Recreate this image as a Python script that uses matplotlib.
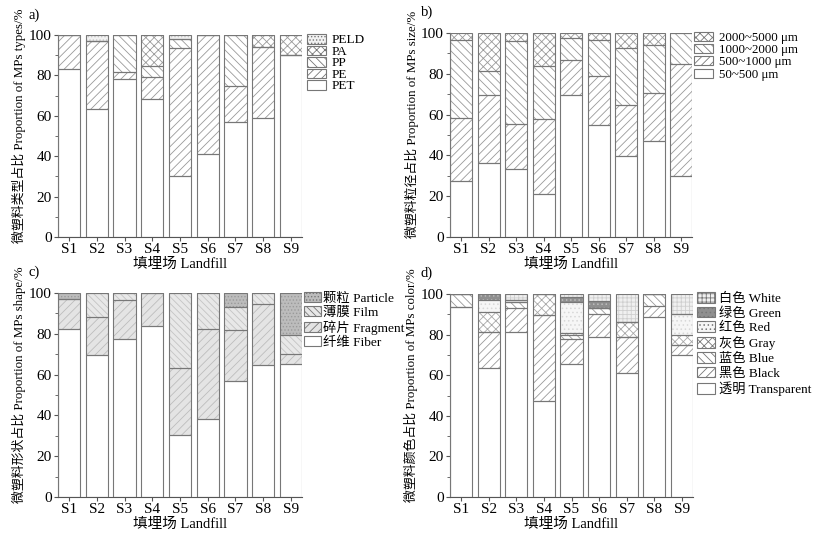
import matplotlib
matplotlib.use('Agg')
import matplotlib.pyplot as plt
from matplotlib.patches import Patch
import numpy as np

plt.rcParams['font.family'] = ['Liberation Serif', 'Noto Sans CJK SC']
plt.rcParams['hatch.linewidth'] = 0.6
plt.rcParams['axes.unicode_minus'] = False

sites = ['S1', 'S2', 'S3', 'S4', 'S5', 'S6', 'S7', 'S8', 'S9']

# a) polymer types
type_labels = ['PET', 'PE', 'PP', 'PA', 'PELD']
pet = [83, 63.5, 78, 68.5, 30, 41, 57, 59, 90]
pe = [17, 33.5, 3.5, 10.5, 63.5, 59, 18, 35, 0]
pp = [0, 0, 18.5, 5.5, 4.5, 0, 25, 0, 0]
pa = [0, 0, 0, 15.5, 0, 0, 0, 6, 10]
peld = [0, 3, 0, 0, 2, 0, 0, 0, 0]

# b) size classes
size_labels = ['50~500 μm', '500~1000 μm', '1000~2000 μm', '2000~5000 μm']
s50_500 = [27.5, 36.5, 33.5, 21, 69.5, 55, 39.5, 47, 30]
s500_1000 = [31, 33.3, 22, 37, 17.5, 24, 25, 23.5, 55]
s1000_2000 = [38, 11.7, 40.5, 26, 10.5, 17.5, 28, 23.5, 15]
s2000_5000 = [3.5, 18.5, 4, 16, 2.5, 3.5, 7.5, 6, 0]

# c) shapes
shape_labels = ['纤维 Fiber', '碎片 Fragment', '薄膜 Film', '颗粒 Particle']
fiber = [82.5, 69.5, 77.5, 84, 30.5, 38, 57, 64.5, 65]
fragment = [14.5, 18.5, 19, 16, 32.5, 44.5, 25, 30, 5]
film = [0, 12, 3.5, 0, 37, 17.5, 11, 5.5, 9.5]
particle = [3, 0, 0, 0, 0, 0, 7, 0, 20.5]

# d) colours
color_labels = ['透明 Transparent', '黑色 Black', '蓝色 Blue', '灰色 Gray',
                '红色 Red', '绿色 Green', '白色 White']
transparent = [93.5, 63.5, 81.5, 47.5, 65.5, 79, 61, 88.5, 70]
black = [0, 18, 11.5, 42, 12.5, 11, 18, 5.5, 5]
blue = [6.5, 0, 3, 0, 2, 3, 0, 6, 0]
gray = [0, 9.5, 0, 10.5, 1, 0, 7, 0, 5]
red = [0, 6, 1, 0, 15, 0, 0, 0, 10]
green = [0, 3, 0, 0, 2.5, 3.5, 0, 0, 0]
white = [0, 0, 3, 0, 1.5, 3.5, 14, 0, 10]

W, H = 819, 538
fig = plt.figure(figsize=(W / 100, H / 100), dpi=100)

EDGE = '#777777'


def rect(l, r, t, b):
    return [l / W, 1 - b / H, (r - l) / W, (b - t) / H]


def draw_panel(box, series, labels, styles, ylabel, tag, leg_anchor, leg_kw):
    ax = fig.add_axes(rect(*box))
    x = np.arange(1, len(sites) + 1)
    bottom = np.zeros(len(sites))
    for vals, (fc, hatch, hc) in zip(series, styles):
        v = np.array(vals, dtype=float)
        ax.bar(x, v, 0.8, bottom=bottom, color=fc, hatch=hatch,
               edgecolor=hc, linewidth=0, zorder=2)
        ax.bar(x, v, 0.8, bottom=bottom, fill=False,
               edgecolor=EDGE, linewidth=0.8, zorder=3)
        bottom += v
    ax.set_xlim(0.6, len(sites) + 0.4)
    ax.set_ylim(0, 100)
    ax.set_yticks([0, 20, 40, 60, 80, 100])
    ax.set_yticks([10, 30, 50, 70, 90], minor=True)
    ax.set_xticks(x)
    ax.set_xticklabels(sites)
    for s in ['top', 'right']:
        ax.spines[s].set_visible(False)
    for s in ['left', 'bottom']:
        ax.spines[s].set_color('#555555')
        ax.spines[s].set_linewidth(0.8)
    ax.tick_params(axis='both', which='major', direction='out', length=3,
                   width=0.8, color='#555555', labelsize=11, pad=1.5)
    ax.tick_params(axis='y', which='minor', direction='out', length=2,
                   width=0.6, color='#555555')
    ax.set_xlabel('填埋场 Landfill', fontsize=10.5, labelpad=1)
    ax.set_ylabel(ylabel, fontsize=9.3)
    ax.yaxis.set_label_coords(-0.13, 0.55)
    ax.text(-0.12, 1.1, tag, transform=ax.transAxes, fontsize=10.5,
            ha='left', va='center')
    leg_handles = [Patch(facecolor=fc, hatch=hatch, edgecolor=hc,
                         linewidth=0.8) for (fc, hatch, hc) in styles]
    leg = ax.legend(leg_handles[::-1], labels[::-1], loc='upper left',
                    bbox_to_anchor=(leg_anchor[0] / W, 1 - leg_anchor[1] / H),
                    bbox_transform=fig.transFigure, frameon=False,
                    borderpad=0, borderaxespad=0, **leg_kw)
    for p in leg.get_patches():
        p.set_edgecolor(EDGE)
    return ax


# style: (facecolor, hatch, hatchcolor)
st_a = [('white', None, EDGE),
        ('white', '////', '#9a9a9a'),
        ('white', '\\\\\\\\', '#9a9a9a'),
        ('white', 'xxxx', '#9a9a9a'),
        ('#f2f2f2', '.....', '#c8c8c8')]
draw_panel((58, 302, 35, 237), [pet, pe, pp, pa, peld], type_labels, st_a,
           '微塑料类型占比 Proportion of MPs types/%', 'a)', (307, 34),
           dict(fontsize=9.5, handlelength=1.45, handleheight=0.75,
                handletextpad=0.45, labelspacing=-0.07))

st_b = [('white', None, EDGE),
        ('white', '////', '#9a9a9a'),
        ('white', '\\\\\\\\', '#9a9a9a'),
        ('white', 'xxxx', '#9a9a9a')]
draw_panel((450, 692, 33, 237), [s50_500, s500_1000, s1000_2000, s2000_5000],
           size_labels, st_b, '微塑料粒径占比 Proportion of MPs size/%', 'b)',
           (694, 32), dict(fontsize=9.3, handlelength=1.45, handleheight=0.7,
                           handletextpad=0.45, labelspacing=0.01))

st_c = [('white', None, EDGE),
        ('#e4e4e4', '////', '#bdbdbd'),
        ('#e8e8e8', '\\\\\\\\\\', '#c4c4c4'),
        ('#bcbcbc', '.....', '#9a9a9a')]
draw_panel((58, 302, 293, 497), [fiber, fragment, film, particle],
           shape_labels, st_c, '微塑料形状占比 Proportion of MPs shape/%', 'c)',
           (304, 292), dict(fontsize=9.6, handlelength=1.25, handleheight=0.75,
                            handletextpad=0.2, labelspacing=0.11))

st_d = [('white', None, EDGE),
        ('white', '////', '#9a9a9a'),
        ('white', '\\\\\\\\', '#9a9a9a'),
        ('white', 'xxxx', '#a8a8a8'),
        ('#f6f6f6', '....', '#d8d8d8'),
        ('#8f8f8f', '....', '#bdbdbd'),
        ('#f0f0f0', '++++', '#cfcfcf')]
draw_panel((450, 693, 294, 497),
           [transparent, black, blue, gray, red, green, white],
           color_labels, st_d, '微塑料颜色占比 Proportion of MPs color/%', 'd)',
           (697, 292), dict(fontsize=9.5, handlelength=1.35, handleheight=0.85,
                            handletextpad=0.3, labelspacing=0.14))

fig.savefig('out.png', dpi=100)
